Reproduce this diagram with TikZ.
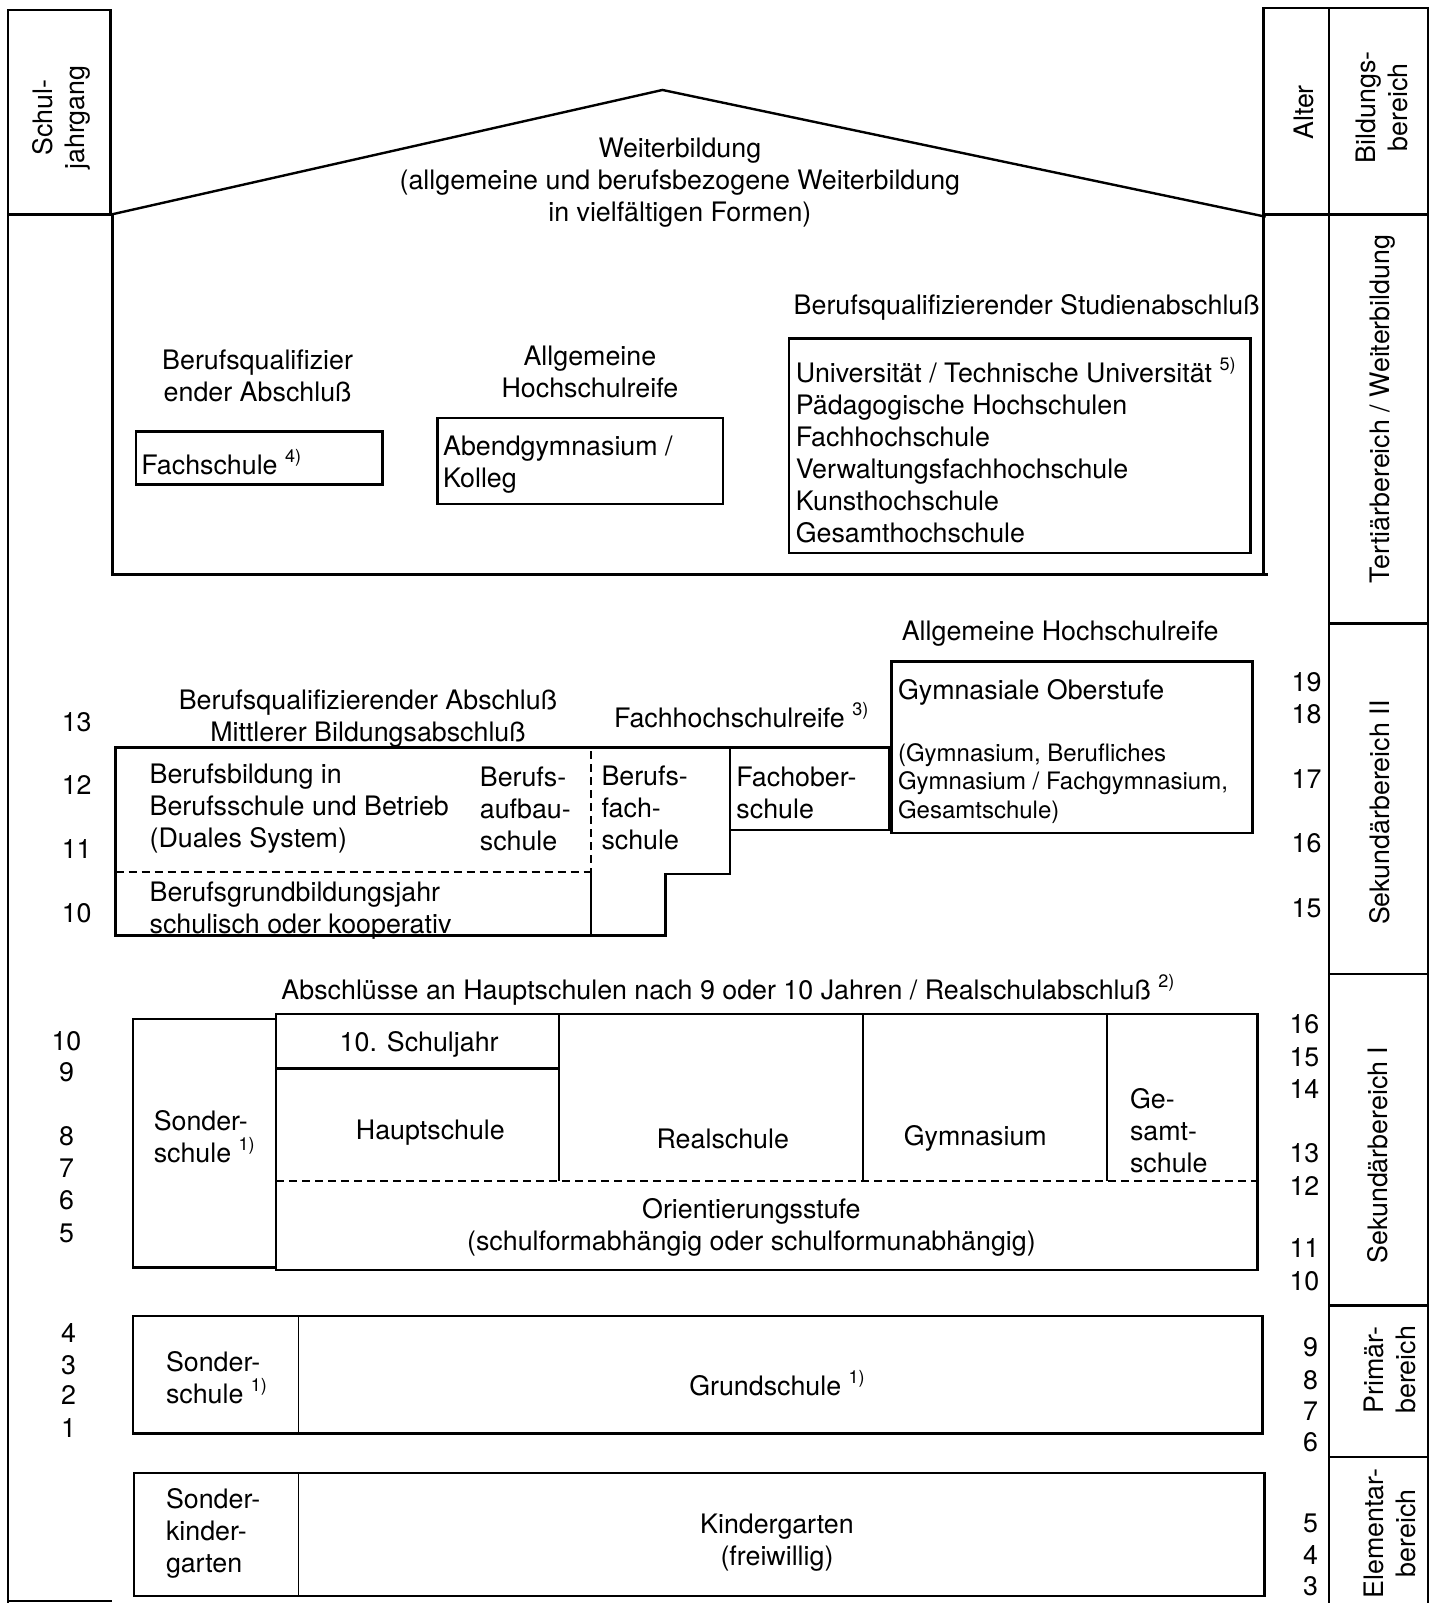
\documentclass[tikz,border=0pt]{standalone}
\usepackage{fontspec}
\setmainfont{TeX Gyre Heros}
\usetikzlibrary{positioning}
\newcommand{\fnote}[1]{\raisebox{0.45em}{\fontsize{9}{9}\selectfont #1}}
\tikzset{
lbl/.style={
  font=\fontsize{13.4}{16}\selectfont,
  inner sep=0pt, align=center, yshift=-1.5pt
  },
lbll/.style={lbl, align=left},
small/.style={font=\fontsize{12}{14.3}\selectfont, inner sep=0pt, align=left, yshift=-1.2pt},
num/.style={font=\fontsize{13.4}{16}\selectfont, inner sep=0pt},
side/.style={font=\fontsize{13.4}{16}\selectfont, inner sep=0pt, align=center, rotate=90},
boxline/.style={draw, line width=1.2pt},
divline/.style={draw, line width=0.9pt},
dashline/.style={draw, line width=1pt, dash pattern=on 4pt off 2.5pt}
}

\begin{document}
\begin{tikzpicture}[x=0.5111pt, y=-0.5111pt]
\useasboundingbox (0,0) rectangle (1401,1568);

% frame and side columns
\draw[boxline]	(8,1568) -- (8,10) -- (108,10) -- (108,210) -- (8,210);
\draw[boxline]	(8,1566) -- (110,1566);
\draw[boxline]	(1236,562) -- (1236,8) -- (1397,8) -- (1397,1568);
\draw[boxline]	(1300,8) -- (1300,1568);
\draw[boxline]	(1236,210) -- (1397,210);
\draw[boxline]	(1300,610) -- (1397,610);
\draw[boxline]	(1300,953) -- (1397,953);
\draw[boxline]	(1300,1277) -- (1397,1277);
\draw[boxline]	(1300,1425) -- (1397,1425);

\node[side]	(schuljahr)	at (60,115)		{Schul-\\jahrgang};
\node[side]	(alter)		at (1275,110)	{Alter};
\node[side]	(bereich)		at (1352,105)	{Bildungs-\\bereich};
\node[side]	(tertiaer)	at (1352,400)	{Tertiärbereich / Weiterbildung};
\node[side]	(sek2)		at (1350,795)	{Sekundärbereich II};
\node[side]	(sek1)		at (1348,1130)	{Sekundärbereich I};
\node[side]	(primaer)		at (1360,1340)	{Primär-\\bereich};
\node[side]	(elementar)	at (1360,1500)	{Elementar-\\bereich};

% Weiterbildung / Tertiaerbereich
\draw[boxline]	(108,210) -- (648,88) -- (1238,212);
\draw[boxline]	(110,210) -- (110,562) -- (1240,562);
\node[lbl]	(weiter)		at (665,176)	{Weiterbildung\\(allgemeine und berufsbezogene Weiterbildung\\in vielfältigen Formen)};

\node[lbl]	(bqabschluss)	at (252,365)	{Berufsqualifizier\\ender Abschluß};
\draw[boxline]	(133,422) rectangle (374,474);
\node[lbll]	(fachschule)	[anchor=west] at (138,449)	{Fachschule \fnote{4)}};

\node[lbl]	(ahreife)		at (577,361)	{Allgemeine\\Hochschulreife};
\draw[boxline]	(428,409) rectangle (707,493);
\node[lbll]	(abendgym)	[anchor=west] at (433,452)	{Abendgymnasium /\\Kolleg};

\node[lbll]	(studab)		[anchor=west] at (776,298)	{Berufsqualifizierender Studienabschluß};
\draw[boxline]	(772,331) rectangle (1223,541);
\node[lbll]	(hochschulen)	[anchor=west] at (778,437.5)	{Universität / Technische Universität \fnote{5)}\\Pädagogische Hochschulen\\Fachhochschule\\Verwaltungsfachhochschule\\Kunsthochschule\\Gesamthochschule};

% Sekundarbereich II
\node[lbl]	(ahreife2)	at (1037,617)	{Allgemeine Hochschulreife};
\draw[boxline]	(872,647) rectangle (1225,815);
\node[lbll]	(oberstufe)	[anchor=west] at (878,674)	{Gymnasiale Oberstufe};
\node[small]	(gymarten)	[anchor=west] at (878,764)	{(Gymnasium, Berufliches\\Gymnasium / Fachgymnasium,\\Gesamtschule)};

\node[lbl]	(fhreife)		at (725,697)	{Fachhochschulreife \fnote{3)}};
\node[lbl]	(mittlerer)	at (360,700)	{Berufsqualifizierender Abschluß\\Mittlerer Bildungsabschluß};

\draw[boxline]	(714,731) -- (714,855) -- (651,855) -- (651,915) -- (113,915) -- (113,731) -- (870,731) -- (870,812) -- (714,812);
\draw[dashline]	(113,853) -- (578,853);
\draw[dashline]	(578,735) -- (578,853);
\draw[divline]	(578,853) -- (578,917);

\node[lbll]	(dual)		[anchor=west] at (146,788)	{Berufsbildung in\\Berufsschule und Betrieb\\(Duales System)};
\node[lbll]	(aufbau)		[anchor=west] at (469,788)	{Berufs-\\aufbau-\\schule};
\node[lbll]	(berufsfach)	[anchor=west] at (588,787)	{Berufs-\\fach-\\schule};
\node[lbll]	(fachober)	[anchor=west] at (720,772.5)	{Fachober-\\schule};
\node[lbll]	(bgj)		[anchor=west] at (146,887.5)	{Berufsgrundbildungsjahr\\schulisch oder kooperativ};

\node[num]	(g13)	at (75,706)	{13};
\node[num]	(g12)	at (75,768)	{12};
\node[num]	(g11)	at (75,830)	{11};
\node[num]	(g10b)	at (75,893)	{10};
\node[num]	(a19)	at (1278,667)	{19};
\node[num]	(a18)	at (1278,699)	{18};
\node[num]	(a17)	at (1278,762)	{17};
\node[num]	(a16b)	at (1278,825)	{16};
\node[num]	(a15b)	at (1278,888)	{15};

% Sekundarbereich I
\node[lbl]	(abschluesse)	at (712,965)	{Abschlüsse an Hauptschulen nach 9 oder 10 Jahren / Realschulabschluß \fnote{2)}};
\draw[boxline]	(130,997) rectangle (270,1240);
\draw[boxline]	(270,992) rectangle (1230,1242);
\draw[boxline]	(270,1045) -- (547,1045);
\draw[divline]	(547,992) -- (547,1155);
\draw[divline]	(844,992) -- (844,1155);
\draw[divline]	(1083,992) -- (1083,1155);
\draw[dashline]	(270,1155) -- (1230,1155);

\node[lbll]	(sonder1)		[anchor=west] at (150,1108.5)	{Sonder-\\schule \fnote{1)}};
\node[lbl]	(zehntes)		at (410,1019)	{10. Schuljahr};
\node[lbl]	(haupt)		at (421,1105)	{Hauptschule};
\node[lbl]	(real)		at (707,1111)	{Realschule};
\node[lbl]	(gymnasium)	at (954,1111)	{Gymnasium};
\node[lbll]	(gesamt)		[anchor=west] at (1105,1103)	{Ge-\\samt-\\schule};
\node[lbl]	(orient)		at (735,1198)	{Orientierungsstufe\\(schulformabhängig oder schulformunabhängig)};

\node[num]	(g10)	at (65,1018)	{10};
\node[num]	(g9)		at (65,1049)	{9};
\node[num]	(g8)		at (65,1111)	{8};
\node[num]	(g7)		at (65,1143)	{7};
\node[num]	(g6)		at (65,1174)	{6};
\node[num]	(g5)		at (65,1206)	{5};
\node[num]	(a16)	at (1276,1002)	{16};
\node[num]	(a15)	at (1276,1034)	{15};
\node[num]	(a14)	at (1276,1065)	{14};
\node[num]	(a13)	at (1276,1128)	{13};
\node[num]	(a12)	at (1276,1160)	{12};
\node[num]	(a11)	at (1276,1221)	{11};
\node[num]	(a10)	at (1276,1253)	{10};

% Primarbereich
\draw[boxline]	(130,1287) rectangle (1235,1402);
\draw[divline]	(292,1287) -- (292,1402);
\node[lbll]	(sonder2)		[anchor=west] at (162,1344.5)	{Sonder-\\schule \fnote{1)}};
\node[lbl]	(grund)		at (760,1350)	{Grundschule \fnote{1)}};

\node[num]	(g4)		at (67,1304)	{4};
\node[num]	(g3)		at (67,1335)	{3};
\node[num]	(g2)		at (67,1365)	{2};
\node[num]	(g1)		at (67,1397)	{1};
\node[num]	(a9)		at (1282,1318)	{9};
\node[num]	(a8)		at (1282,1350)	{8};
\node[num]	(a7)		at (1282,1380)	{7};
\node[num]	(a6)		at (1282,1411)	{6};

% Elementarbereich
\draw[boxline]	(131,1441) rectangle (1237,1561);
\draw[divline]	(292,1441) -- (292,1561);
\node[lbll]	(sonderkg)	[anchor=west] at (162,1497)	{Sonder-\\kinder-\\garten};
\node[lbl]	(kiga)		at (760,1506.5)	{Kindergarten\\(freiwillig)};

\node[num]	(a5)		at (1282,1490)	{5};
\node[num]	(a4)		at (1282,1521)	{4};
\node[num]	(a3)		at (1282,1552)	{3};
\end{tikzpicture}
\end{document}
